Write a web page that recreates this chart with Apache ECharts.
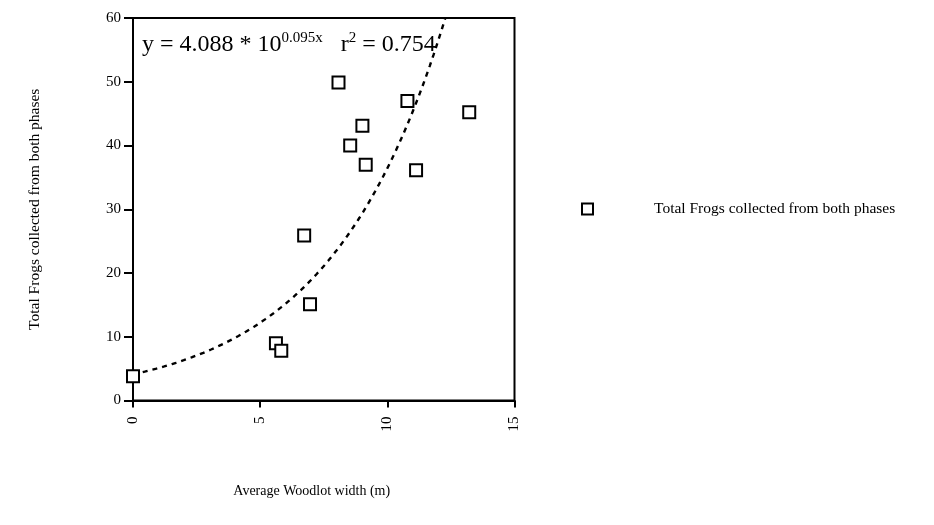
<!DOCTYPE html>
<html>
<head>
<meta charset="utf-8">
<script src="https://cdn.jsdelivr.net/npm/echarts@6/dist/echarts.min.js"></script>
<style>
  html, body { margin: 0; padding: 0; background: #fff; }
  #chart { width: 934px; height: 525px; }
</style>
</head>
<body>
<div id="chart"></div>
<script>
// Average woodlot width (m) against total frogs collected
const woodlotWidth = [0, 5.62, 5.83, 6.96, 6.73, 8.08, 8.54, 9.02, 9.15, 10.79, 11.13, 13.22];
const totalFrogs   = [3.8, 9.0, 7.8, 15.1, 25.9, 49.9, 40.0, 43.1, 37.0, 47.0, 36.1, 45.2];

// Fitted exponential model: y = a * 10^(b x)
const fitA = 4.088;
const fitB = 0.095;
const fitR2 = 0.754;

const xTicks = [0, 5, 10, 15];
const yTicks = [0, 10, 20, 30, 40, 50, 60];

const seriesName = 'Total Frogs collected from both phases';
const serif = '"Liberation Serif", "Times New Roman", serif';

// Sample the fitted curve across the visible x range, stopping at the top of the axis
const yMax = yTicks[yTicks.length - 1];
const xEnd = Math.log10(yMax / fitA) / fitB;
const fitCurve = [];
for (let i = 0; i <= 80; i++) {
  const x = xEnd * i / 80;
  fitCurve.push([x, fitA * Math.pow(10, fitB * x)]);
}

const chart = echarts.init(document.getElementById('chart'), null, { renderer: 'canvas' });

chart.setOption({
  animation: false,
  backgroundColor: '#fff',
  textStyle: { fontFamily: serif, color: '#000' },
  grid: {
    left: 133, right: 419.5, top: 18, bottom: 124.5,
    show: true, borderColor: '#000', borderWidth: 2, backgroundColor: 'transparent'
  },
  xAxis: {
    type: 'value', min: xTicks[0], max: xTicks[xTicks.length - 1], interval: 5,
    name: 'Average Woodlot width (m)', nameLocation: 'middle', nameGap: 84,
    nameTextStyle: { fontFamily: serif, fontSize: 14, color: '#000', padding: [0, 24, 0, 0] },
    axisLine: { show: true, onZero: false, lineStyle: { color: '#000', width: 2 } },
    axisTick: { show: true, length: 7, lineStyle: { color: '#000', width: 2 } },
    axisLabel: { rotate: 90, margin: 16, fontFamily: serif, fontSize: 15, color: '#000' },
    splitLine: { show: false }
  },
  yAxis: {
    type: 'value', min: yTicks[0], max: yMax, interval: 10,
    name: 'Total Frogs collected from both phases', nameLocation: 'middle', nameGap: 90,
    nameTextStyle: { fontFamily: serif, fontSize: 15.5, color: '#000' },
    axisLine: { show: true, onZero: false, lineStyle: { color: '#000', width: 2 } },
    axisTick: { show: true, length: 9, lineStyle: { color: '#000', width: 2 } },
    axisLabel: { margin: 12, fontFamily: serif, fontSize: 15, color: '#000' },
    splitLine: { show: false }
  },
  legend: {
    data: [seriesName],
    left: 576, top: 196,
    itemWidth: 11, itemHeight: 11,
    textStyle: { fontFamily: serif, fontSize: 15.5, color: '#000', padding: [0, 0, 0, 56] }
  },
  graphic: [{
    type: 'text', left: 142, top: 31,
    style: {
      text: '{b|y = 4.088 * 10}{s|0.095x}{b|   r}{s|2}{b| = ' + fitR2 + '}',
      rich: {
        b: { fontFamily: serif, fontSize: 24, fill: '#000', verticalAlign: 'bottom', lineHeight: 26 },
        s: { fontFamily: serif, fontSize: 15, fill: '#000', verticalAlign: 'top', lineHeight: 26, padding: [0, 0, 10, 0] }
      }
    }
  }],
  series: [
    {
      name: 'fit', type: 'line', data: fitCurve, showSymbol: false, symbol: 'none',
      smooth: false, silent: true, z: 1,
      lineStyle: { color: '#000', width: 2.4, type: [5, 5] }
    },
    {
      name: seriesName, type: 'scatter',
      data: woodlotWidth.map((x, i) => [x, totalFrogs[i]]),
      symbol: 'rect', symbolSize: 12, z: 3,
      itemStyle: { color: '#fff', borderColor: '#000', borderWidth: 2, opacity: 1 }
    }
  ]
});
</script>
</body>
</html>
